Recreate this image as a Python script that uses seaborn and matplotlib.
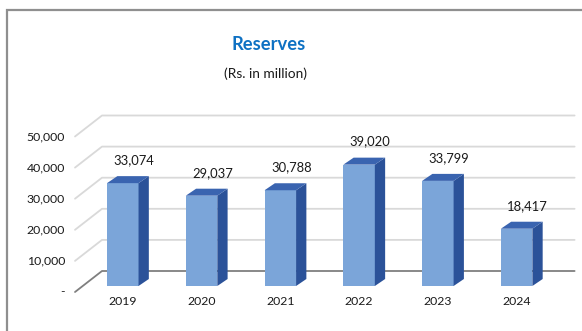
import matplotlib
matplotlib.use("Agg")
import matplotlib.pyplot as plt
from matplotlib.patches import Polygon, Rectangle
import seaborn as sns
import pandas as pd

years = ["2019", "2020", "2021", "2022", "2023", "2024"]
reserves = [33074, 29037, 30788, 39020, 33799, 18417]
y_ticks = [0, 10000, 20000, 30000, 40000, 50000]
y_tick_labels = ["-", "10,000", "20,000", "30,000", "40,000", "50,000"]
title = "Reserves"
subtitle = "(Rs. in million)"

FRONT = "#7BA5D9"
TOP = "#3A64B0"
SIDE = "#2B5299"
GRID = "#d9d9d9"
FLOOR = "#7f7f7f"
TEXT = "#1a1a1a"

sns.set_theme(style="white")
plt.rcParams["font.family"] = ["Lato", "DejaVu Sans"]

W, H = 582, 331
fig = plt.figure(figsize=(W / 100, H / 100), dpi=100)
fig.patch.set_facecolor("white")

# front plane of the columns, in pixels
ax_left, ax_right = 83.4, 556.0
ax_bottom, ax_top = 286.0, 130.5
ax = fig.add_axes([ax_left / W, 1 - ax_bottom / H,
                   (ax_right - ax_left) / W, (ax_bottom - ax_top) / H])

df = pd.DataFrame({"year": years, "reserves": reserves})
sns.barplot(data=df, x="year", y="reserves", color=FRONT, saturation=1,
            width=0.4, linewidth=0, ax=ax, zorder=3)

ax.set_xlim(-0.5, len(years) - 0.5)
ax.set_ylim(y_ticks[0], y_ticks[-1])

# pixel -> data conversion for the oblique depth offsets
px_x = (len(years)) / (ax_right - ax_left)
px_y = (y_ticks[-1] - y_ticks[0]) / (ax_bottom - ax_top)

# floor / back wall geometry (pixels relative to the front plane)
front_dx, front_dy = -8.4, -6.0
back_dx, back_dy = 18.6, 15.0
x0, x1 = ax.get_xlim()
for v in y_ticks:
    col = FLOOR if v == 0 else GRID
    xs = [x0 + front_dx * px_x, x0 + back_dx * px_x, x1 + back_dx * px_x]
    ys = [v + front_dy * px_y, v + back_dy * px_y, v + back_dy * px_y]
    ax.plot(xs, ys, color=col, lw=1.3, clip_on=False, zorder=1,
            solid_joinstyle="round")

# column depth faces
bar_dx, bar_dy = 10.3 * px_x, 7.0 * px_y
for patch in ax.patches:
    bx, bw, bh = patch.get_x(), patch.get_width(), patch.get_height()
    side = Polygon([(bx + bw, 0), (bx + bw, bh), (bx + bw + bar_dx, bh + bar_dy),
                    (bx + bw + bar_dx, bar_dy)], closed=True, facecolor=SIDE,
                   edgecolor="none", zorder=3, clip_on=False)
    top = Polygon([(bx, bh), (bx + bw, bh), (bx + bw + bar_dx, bh + bar_dy),
                   (bx + bar_dx, bh + bar_dy)], closed=True, facecolor=TOP,
                  edgecolor="none", zorder=3, clip_on=False)
    ax.add_patch(side)
    ax.add_patch(top)

# value labels
for i, v in enumerate(reserves):
    ax.annotate(f"{v:,}", xy=(i, v), xytext=(11, 23), textcoords="offset pixels",
                ha="center", va="center", fontsize=9.4, color=TEXT,
                annotation_clip=False, zorder=5)

# value axis labels sit on the front edge of the floor
for v, lab in zip(y_ticks, y_tick_labels):
    ax.annotate(lab, xy=(0, v), xycoords=ax.get_yaxis_transform(),
                xytext=(-18.4, front_dy), textcoords="offset pixels",
                ha="right", va="center", fontsize=8.8, color=TEXT,
                annotation_clip=False)

ax.set_yticks([])
ax.set_xlabel("")
ax.set_ylabel("")
ax.tick_params(axis="x", length=0, pad=7.2, labelsize=8.8, labelcolor=TEXT)
for s in ax.spines.values():
    s.set_visible(False)
ax.set_facecolor("none")

# outer chart frame (only the top and left edges fall inside the image)
fig.add_artist(Rectangle((7 / W, -0.5), 1.5, (1 - 10 / H) + 0.5,
                         transform=fig.transFigure, fill=False,
                         edgecolor="#8f8f8f", lw=1.6))

fig.text(268.7 / W, 1 - 45 / H, title, ha="center", va="center",
         fontsize=13.2, fontweight="bold", color="#0E71C3")
fig.text(266 / W, 1 - 74 / H, subtitle, ha="center", va="center",
         fontsize=9.9, color=TEXT)

fig.savefig("out.png", dpi=100)
